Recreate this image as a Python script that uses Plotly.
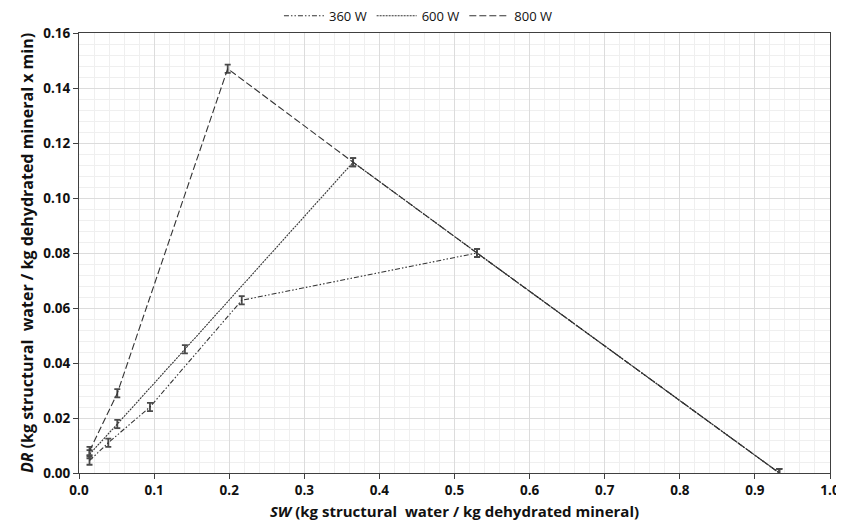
import plotly.graph_objects as go

series_names = ["360 W", "600 W", "800 W"]
sw_360 = [0.014, 0.039, 0.0945, 0.2167, 0.530, 0.9325]
dr_360 = [0.0045, 0.0110, 0.0240, 0.0628, 0.0800, 0.0000]
sw_600 = [0.014, 0.051, 0.141, 0.365, 0.530, 0.9325]
dr_600 = [0.0068, 0.0178, 0.0450, 0.1130, 0.0800, 0.0000]
sw_800 = [0.014, 0.051, 0.198, 0.365, 0.530, 0.9325]
dr_800 = [0.0080, 0.0290, 0.1470, 0.1130, 0.0800, 0.0000]
err = [0.0015, 0.0015, 0.0015, 0.0015, 0.0015, 0.0015]

x_ticks = [0.0, 0.1, 0.2, 0.3, 0.4, 0.5, 0.6, 0.7, 0.8, 0.9, 1.0]
y_ticks = [0.00, 0.02, 0.04, 0.06, 0.08, 0.10, 0.12, 0.14, 0.16]

dashes = ["5px,2px,1.5px,2px,1.5px,2px", "2px,1px", "7px,3px"]
xs = [sw_360, sw_600, sw_800]
ys = [dr_360, dr_600, dr_800]

fig = go.Figure()
for name, x, y, d in zip(series_names, xs, ys, dashes):
    fig.add_trace(go.Scatter(
        x=x, y=y, name=name, mode="lines",
        line=dict(color="#333333", width=1.1, dash=d),
        error_y=dict(type="data", array=err, visible=True, color="#4a4a4a", thickness=1.8, width=3),
        cliponaxis=False,
    ))

font_family = "Open Sans, Liberation Sans, sans-serif"
fig.update_layout(
    width=836, height=521,
    margin=dict(l=71, r=14, t=25, b=56, autoexpand=False),
    paper_bgcolor="white", plot_bgcolor="white",
    font=dict(family=font_family, color="#111111"),
    showlegend=True,
    legend=dict(orientation="h", x=0.452, xanchor="center", y=1.005, yanchor="bottom",
                font=dict(size=13, color="#111111"), itemwidth=40, bgcolor="rgba(0,0,0,0)",
                traceorder="normal"),
    xaxis=dict(
        range=[0, 1.0], tickvals=x_ticks, ticktext=[f"{v:.1f}" for v in x_ticks],
        automargin=False, ticklabeloverflow="allow",
        showgrid=True, gridcolor="#dcdcdc", gridwidth=1,
        minor=dict(dtick=0.02, showgrid=True, gridcolor="#efefef", gridwidth=1),
        showline=True, linecolor="#404040", linewidth=1.2, mirror=True,
        ticks="outside", ticklen=5, tickcolor="#404040",
        tickfont=dict(size=13.5, family=font_family, color="#111111", weight="bold"),
        title=dict(text="<i>SW</i> (kg structural  water / kg dehydrated mineral)",
                   font=dict(size=15, weight="bold", color="#111111"), standoff=8),
        zeroline=False,
    ),
    yaxis=dict(
        range=[0, 0.16], tickvals=y_ticks, ticktext=[f"{v:.2f}" for v in y_ticks],
        automargin=False, ticklabeloverflow="allow",
        showgrid=True, gridcolor="#dcdcdc", gridwidth=1,
        minor=dict(dtick=0.004, showgrid=True, gridcolor="#efefef", gridwidth=1),
        showline=True, linecolor="#404040", linewidth=1.2, mirror=True,
        ticks="outside", ticklen=5, tickcolor="#404040",
        tickfont=dict(size=13.5, family=font_family, color="#111111", weight="bold"),
        title=dict(text="<i>DR</i> (kg structural  water / kg dehydrated mineral x min)",
                   font=dict(size=16, weight="bold", color="#111111"), standoff=5),
        zeroline=False,
    ),
)

fig.write_html("out.html")
